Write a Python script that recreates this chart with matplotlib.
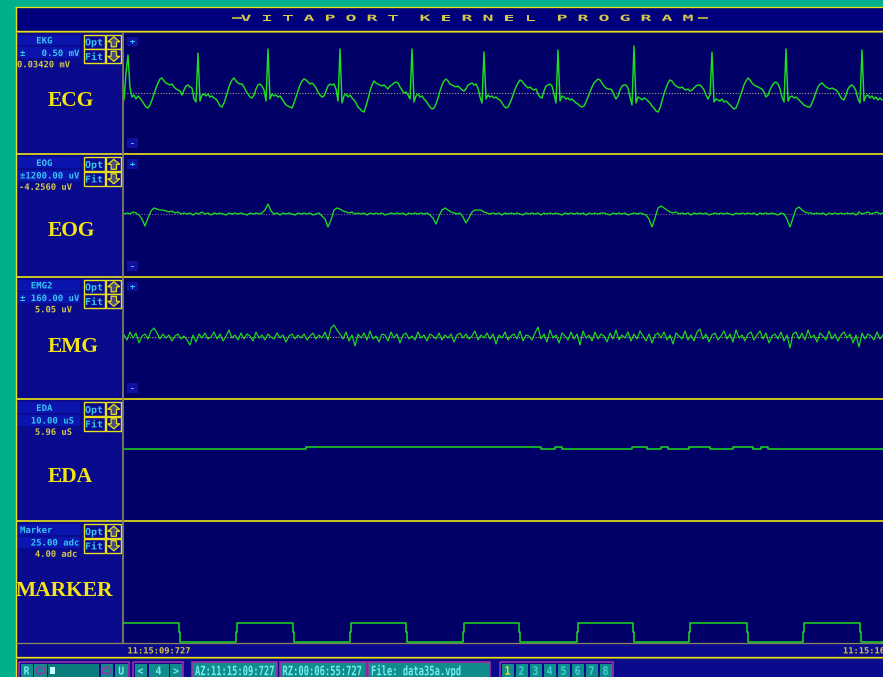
import numpy as np
import matplotlib
matplotlib.use("Agg")
import matplotlib.pyplot as plt
from matplotlib.patches import Rectangle, PathPatch, Polygon
from matplotlib.textpath import TextPath
from matplotlib.font_manager import FontProperties
from matplotlib.transforms import Affine2D

# ------------------------------------------------------------------ data
# ECG samples (screen units above baseline), one sample every 2 time steps,
# written beat by beat
ecg = [
    -7, 20, 38, 5, -4, -2, -6, -3, -5, -8, -11, -14, -15, -12, -7, -1, 5, 10, 14, 15,
    12, 10, 9, 8, 9, 6, 4, 3, 2, -2, 3, 7, 8, 6, 5, -6, -9,
    40, -8, -2, -1, -3, -1, -4, -3, -5, -6, -9, -13, -14, -10, -4, 3, 9, 13, 15, 12,
    10, 9, 9, 6, 2, -1, -4, -5, -2, 4, 8, 9, 7, 3, -8,
    44, -6, -1, -3, -2, -4, -3, -6, -9, -12, -13, -14, -15, -10, -4, 2, 8, 12, 14, 13,
    11, 9, 10, 8, 5, 1, -2, -4, -3, 2, 7, 9, 8, 9, 4, -8,
    44, -10, -3, -1, -4, -2, -5, -7, -10, -14, -16, -18, -19, -13, -6, 2, 8, 12, 10, 9,
    8, 7, 8, 6, 4, 7, 8, 10, 11, 10, 6, 3, 0, 1, -2, -6,
    44, -9, -3, -1, -4, -3, -6, -8, -11, -14, -16, -15, -11, -5, 2, 8, 12, 14, 12, 9,
    8, 7, 6, 7, 5, 3, 2, 4, 8, 9, 10, 8, 9, 5, -4, -10,
    41, -6, -2, -4, -3, -5, -4, -6, -7, -10, -13, -15, -14, -10, -5, 1, 6, 10, 13, 12,
    9, 7, 5, 6, 4, 3, 4, -1, -4, -5, 2, 7, 8, 9, 7, -1, -10,
    43, -8, -3, -4, -6, -5, -7, -6, -8, -10, -11, -13, -14, -13, -9, -4, 1, 6, 10, 12,
    14, 13, 10, 7, 5, 4, 4, 3, -2, -6, -3, 3, 7, 8, 8, 5, -4, -12,
    47, -10, -4, -5, -7, -5, -6, -8, -10, -13, -15, -18, -19, -15, -8, -1, 5, 10, 13, 12,
    9, 7, 6, 5, 6, 4, 3, 4, 2, 3, 5, 7, 8, 8, 6, 3, -2, -6, -2,
    41, -9, -6, -7, -8, -6, -9, -8, -10, -12, -14, -16, -15, -10, -4, 2, 8, 12, 15, 13,
    10, 8, 7, 6, 5, 4, 1, -4, -2, 3, 7, 10, 11, 9, 4, -4, -9,
    44, -8, -4, -3, -5, -4, -6, -8, -10, -12, -13, -14, -14, -10, -5, 1, 6, 9, 10, 8,
    6, 5, 4, 5, 4, 3, 1, -3, -6, -7, -2, 4, 7, 8, 6, 2, -6, -10,
    43, -8, -3, -2, -5, -3, -6, -4, -7, -5, -7,
]

# EOG samples (screen units), one sample every 3 time steps
eog = [
    0, 1, 0, 2, 1, -1, -5, -12, -4, 3,
    6, 5, 4, 4, 3, 2, 3, 1, 2, 0,
    1, 0, 1, -1, 1, 0, 2, 0, 1, -1,
    1, 0, 1, 0, -1, 1, 0, 1, 0, 1,
    0, -1, 1, 0, 1, 0, 1, 4, 10, 3,
    0, 1, -1, 1, 0, 1, 0, -1, 1, 0,
    1, 0, 1, -1, 0, 1, -2, -5, -13, -6,
    4, 6, 5, 3, 2, 1, 2, 0, 1, 0,
    1, -1, 1, 0, 1, 0, 1, -1, 0, 1,
    0, 1, 0, 1, -1, 1, 0, 1, 0, 1,
    0, 1, -1, -4, -10, -2, 4, 6, 4, 2,
    1, 0, 1, -3, -9, -4, 2, 4, 4, 4,
    2, 1, 0, 1, 0, 1, -1, 1, 0, 1,
    0, 1, 0, -1, 1, 0, 1, 0, 1, -1,
    1, 0, 1, 0, 1, 0, -1, 1, 0, 1,
    0, 1, 0, 1, -1, 1, 0, 1, 0, 1,
    1, 0, -1, 1, 0, 1, 0, 1, -1, 0,
    1, 0, 1, 0, -1, -5, -13, -4, 6, 8,
    6, 4, 2, 1, 2, 0, 1, 0, 1, -1,
    1, 0, 1, 0, 1, -1, 0, 1, 0, 1,
    0, 1, 0, -1, 1, 0, 1, 0, 1, 0,
    1, -1, 1, 0, 1, 0, 1, 0, -1, 1,
    0, -5, -13, -4, 5, 7, 4, 2, 1, 1,
    0, 1, 0, 1, -1, 1, 0, 1, 0, 1,
    0, 1, 0, 1, -1, 2, 0, 1, 2, 0,
    1, 2, 0, 1,
]

# EMG samples (screen units), one sample every 3 time steps
emg = [
    2, -3, 5, -1, 4, -6, 1, 3, -2, 6,
    9, 4, -2, 3, -1, 2, -4, 1, 3, -2,
    1, -3, -8, 2, -5, 3, -1, 4, -2, 0,
    5, -2, 3, -4, 1, 7, -1, 2, -3, 4,
    -2, 3, 1, -4, 5, -1, 2, -3, 3, 0,
    -2, 4, -1, 2, -5, 1, 3, -2, 2, -1,
    3, -3, 1, 4, -2, 2, -1, 5, -3, 9,
    12, 7, 3, -2, 5, -4, 2, -9, 3, -1,
    4, -3, 6, -2, 1, -5, 3, 2, -4, 5,
    -1, 3, -6, 2, 4, -2, 1, -3, 5, -1,
    2, -4, 3, 1, -2, 4, -3, 2, -1, 3,
    -5, 2, 4, -1, 3, -2, 1, 6, -3, 2,
    -1, 4, -2, 3, -7, 2, -1, 5, -3, 1,
    3, -2, 6, -4, 2, 1, -3, 4, 10, -2,
    3, -5, 7, -1, 2, -6, 4, 1, -3, 5,
    -2, 3, -8, 6, -1, 2, -4, 5, -2, 3,
    1, -5, 4, -2, 7, -3, 2, -1, 5, -4,
    3, -2, 6, 1, -4, 3, -6, 2, 4, -1,
    5, -3, 2, -7, 4, 1, -2, 6, -3, 2,
    -4, 5, 8, -2, 3, -5, 2, 4, -3, 1,
    6, -2, 3, -5, 7, -1, 2, -4, 3, 5,
    -3, 2, 6, -2, 4, -6, 1, 3, -2, 5,
    -4, 2, -11, 3, 5, -2, 4, -3, 7, -1,
    2, -5, 4, 1, -3, 6, -2, 3, -4, 2,
    5, -1, 3, -6, 2, -10, 4, -2, 3, 1,
    -3, 5, -2, 2,
]

# EDA level changes (time step, uS)
eda_t = [0, 182, 417, 431, 438, 508, 523, 537, 544, 565, 586, 609, 629, 637, 644]
eda_v = [5.98, 6.08, 5.98, 6.08, 5.98, 6.08, 5.98, 6.08, 5.98, 6.08, 5.98, 6.08,
         5.98, 6.08, 5.98]

# Marker channel (adc): edges in time steps, levels
mk_fall = [55, 169, 282, 395, 509, 623, 736]
mk_rise = [112, 226, 339, 453, 565, 679]
mk_high, mk_mid, mk_low = 4.0, 2.0, 0.0

# Channel texts
ch_names = ["   EKG", "   EOG", "  EMG2", "   EDA", "Marker"]
ch_ranges = ["\u00b1   0.50 mV", "\u00b11200.00 uV", "\u00b1 160.00 uV", "  10.00 uS", "  25.00 adc"]
ch_values = ["0.03420 mV", "-4.2560 uV", "   5.05 uV", "   5.96 uS", "   4.00 adc"]
ch_titles = ["ECG", "EOG", "EMG", "EDA", "MARKER"]

title_words = ["VITAPORT", "KERNEL", "PROGRAM"]
time_start = "11:15:09:727"
time_end = "11:15:16:455"
az_text = "AZ:11:15:09:727"
rz_text = "RZ:00:06:55:727"
file_text = "File: data35a.vpd"
page_buttons = ["1", "2", "3", "4", "5", "6", "7", "8"]

# ------------------------------------------------------------------ colours
TEAL = '#00B08A'
NAVY_PLOT = '#000066'
NAVY_COL = '#0A0A8C'
NAVY_TITLE = '#00007C'
BOX_BLUE = '#0C14AE'
YELLOW = '#E8E018'
OLIVE = '#8A8636'
GRAYDIV = '#8A8460'
CYAN = '#36C6F4'
VALUE_YEL = '#D2C84E'
LABEL_YEL = '#F4E414'
GREEN = '#1EDC1E'
TB_TEAL = '#108C8C'
TB_FRAME = '#A42CA8'
TB_TEXT = '#74EEEE'

W, H = 883, 677
fig = plt.figure(figsize=(W / 100, H / 100), dpi=100)
fig.patch.set_facecolor(TEAL)

base = fig.add_axes([0, 0, 1, 1], zorder=0)
base.set_xlim(0, W)
base.set_ylim(H, 0)
base.set_axis_off()

MONO = FontProperties(family='DejaVu Sans Mono', weight='bold')


def rect(x0, y0, x1, y1, fc, ec='none', lw=0.0, z=1):
    base.add_patch(Rectangle((x0, y0), x1 - x0, y1 - y0, facecolor=fc,
                             edgecolor=ec, linewidth=lw, zorder=z))


def hline(y, x0, x1, color, px):
    base.plot([x0, x1], [y, y], color=color, lw=px * 0.72, solid_capstyle='butt', zorder=3)


def vline(x, y0, y1, color, px):
    base.plot([x, x], [y0, y1], color=color, lw=px * 0.72, solid_capstyle='butt', zorder=3)


def ptext(x, y, s, cap, pitch, color, ha='left', z=5):
    """Monospaced screen text with given cap height and character pitch (pixels)."""
    tp = TextPath((0, 0), s, size=1, prop=MONO)
    sx = pitch / 0.602
    sy = cap / 0.729
    width = len(s) * pitch
    if ha == 'center':
        x -= width / 2
    elif ha == 'right':
        x -= width
    tr = Affine2D().scale(sx, -sy).translate(x, y + cap / 2) + base.transData
    base.add_patch(PathPatch(tp, facecolor=color, edgecolor='none', transform=tr, zorder=z))


def arrow_v(x0, y0, x1, y1, up, ec, fc):
    cx = (x0 + x1) / 2
    w = x1 - x0
    h = y1 - y0
    if up:
        tip, neck, bot = y0 + 1.5, y0 + h * 0.5, y1 - 1.5
    else:
        tip, neck, bot = y1 - 1.5, y0 + h * 0.5, y0 + 1.5
    pts = [(cx, tip), (x1 - 1.5, neck), (cx + w * 0.18, neck), (cx + w * 0.18, bot),
           (cx - w * 0.18, bot), (cx - w * 0.18, neck), (x0 + 1.5, neck)]
    base.add_patch(Polygon(pts, closed=True, facecolor=fc, edgecolor=ec, linewidth=0.9, zorder=4))


def arrow_h(x0, y0, x1, y1, left, ec, fc):
    cy = (y0 + y1) / 2
    w = x1 - x0
    h = y1 - y0
    if left:
        tip, neck, end = x0 + 1.5, x0 + w * 0.45, x1 - 1.5
    else:
        tip, neck, end = x1 - 1.5, x0 + w * 0.55, x0 + 1.5
    pts = [(tip, cy), (neck, y0 + 1.5), (neck, cy - h * 0.18), (end, cy - h * 0.18),
           (end, cy + h * 0.18), (neck, cy + h * 0.18), (neck, y1 - 1.5)]
    base.add_patch(Polygon(pts, closed=True, facecolor=fc, edgecolor=ec, linewidth=0.9, zorder=4))


# ------------------------------------------------------------------ window frame
rect(16, 7, W, 32, NAVY_TITLE)
seps = [31.5, 154, 276.5, 399, 521]
bottoms = [154, 276.5, 399, 521, 643]
for top, bot in zip(seps, bottoms):
    rect(16, top, 123, bot, NAVY_COL)
    rect(123, top, W, bot, NAVY_PLOT)
rect(16, 643, W, 657, NAVY_COL)
rect(16, 657, W, H, NAVY_COL)

hline(7.2, 15, W, YELLOW, 1.3)
vline(15.5, 7, H, YELLOW, 1.4)
hline(31.0, 16, W, YELLOW, 1.4)
hline(32.3, 16, W, OLIVE, 1.0)
for y in seps[1:]:
    hline(y, 16, W, YELLOW, 1.7)
vline(123.2, 32, 643, GRAYDIV, 1.7)
hline(642.9, 16, W, GRAYDIV, 1.3)
hline(656.6, 16, W, YELLOW, 1.3)
hline(658.0, 16, W, OLIVE, 1.0)

# title with letter spacing
tx = 246
title_y = 17.8
title_dashes = [(231.5, 241.5), (697.5, 707.5)]
for word in title_words:
    for ch in word:
        ptext(tx, title_y, ch, 6.2, 11.0, VALUE_YEL, ha='center')
        tx += 21
    tx += 11
for xa, xb in title_dashes:
    hline(title_y, xa, xb, '#A8A048', 2.0)

# ------------------------------------------------------------------ channel headers
title_pos = [(48, 101.5), (48, 231), (48, 347), (48, 477), (16, 591)]
value_x = [17, 19, 19, 19, 19]
for i, top in enumerate(seps):
    # name and range boxes
    rect(17, top + 3.3, 79.5, top + 14, BOX_BLUE, z=2)
    rect(17, top + 15.8, 79.5, top + 26.6, BOX_BLUE, z=2)
    ptext(20, top + 8.7, ch_names[i], 6.4, 5.4, CYAN)
    ptext(20, top + 21.3, ch_ranges[i], 6.4, 5.4, CYAN)
    ptext(value_x[i], top + 32.6, ch_values[i], 6.4, 5.3, VALUE_YEL)

    # Opt / Fit buttons
    for j, lab in enumerate(["Opt", "Fit"]):
        y0 = top + 3.3 + j * 14.5
        rect(83.5, y0, 104.5, y0 + 14, NAVY_COL, ec=YELLOW, lw=1.0, z=2)
        ptext(94.0, y0 + 7.2, lab, 6.8, 6.0, CYAN, ha='center')
        rect(106.3, y0, 121.3, y0 + 14, NAVY_COL, ec=YELLOW, lw=1.0, z=2)
        arrow_v(106.3, y0 + 0.5, 121.3, y0 + 13.5, j == 0, YELLOW, '#4C4C7C')

    # + / - scale buttons
    if i < 3:
        rect(127, top + 5.2, 137.5, top + 14.5, '#1010A0', z=2)
        ptext(132.3, top + 9.9, "+", 5.5, 6.0, CYAN, ha='center')
        rect(127, top + 106.5, 137.5, top + 116.5, '#1010A0', z=2)
        ptext(132.3, top + 111.6, "-", 5.5, 6.0, CYAN, ha='center')

    tx0, ty0 = title_pos[i]
    base.text(tx0, ty0, ch_titles[i], color=LABEL_YEL, fontsize=15.5, fontweight='bold',
              family='Liberation Serif', ha='left', va='center', zorder=5)

# time band labels
ptext(127.5, 650.3, time_start, 6.2, 5.25, '#D8C840')
ptext(843, 650.3, time_end, 6.2, 5.25, '#D8C840')

# ------------------------------------------------------------------ toolbar
ty = 670.5
rect(19, 661.5, 128.5, H + 3, 'none', ec=TB_FRAME, lw=1.2, z=2)
rect(20.5, 664, 32.5, H + 3, TB_TEAL, z=2)
ptext(26.5, ty, "R", 8.0, 6.0, TB_TEXT, ha='center')
rect(34, 664, 46.5, H + 3, TB_TEAL, z=2)
arrow_h(34, 664, 46.5, 677, True, TB_FRAME, TB_TEAL)
rect(48, 664, 99, H + 3, '#0A7C7C', z=2)
rect(49.5, 666.5, 55, 674, '#C8FFFF', z=3)
rect(100.5, 664, 113, H + 3, TB_TEAL, z=2)
arrow_h(100.5, 664, 113, 677, False, TB_FRAME, TB_TEAL)
rect(115, 664, 127.5, H + 3, TB_TEAL, z=2)
ptext(121.2, ty, "U", 8.0, 6.0, TB_TEXT, ha='center')

rect(133, 661.5, 183, H + 3, 'none', ec=TB_FRAME, lw=1.2, z=2)
for (xa, xb, lab) in [(134.5, 146.5, "<"), (148.5, 168.5, "4"), (170, 182, ">")]:
    rect(xa, 664, xb, H + 3, TB_TEAL, z=2)
    ptext((xa + xb) / 2, ty, lab, 8.0, 6.0, TB_TEXT, ha='center')

for (xa, xb, lab) in [(192, 277, az_text), (279.5, 365.5, rz_text), (368, 490, file_text)]:
    rect(xa, 661.5, xb, H + 3, TB_TEAL, ec=TB_FRAME, lw=1.2, z=2)
    ptext(xa + 3, ty, lab, 9.5, 5.3, TB_TEXT)

rect(500, 661.5, 613, H + 3, 'none', ec=TB_FRAME, lw=1.2, z=2)
for k, lab in enumerate(page_buttons):
    xa = 501.5 + 14 * k
    rect(xa, 664, xa + 12, H + 3, TB_TEAL, z=2)
    ptext(xa + 6, ty, lab, 8.5, 6.0, YELLOW if k == 0 else '#40D0D0', ha='center')


# ------------------------------------------------------------------ traces
def px_axes(x, y, w, h):
    ax = fig.add_axes([x / W, 1 - (y + h) / H, w / W, h / H], zorder=1)
    ax.set_axis_off()
    ax.set_xlim(0, 759)
    return ax


# ECG
ax = px_axes(124, 32, 759, 122)
ax.set_ylim(-61, 61)
ax.axhline(0, color='#A8A48C', lw=0.8, ls=(0, (1, 1.5)))
ax.plot(np.arange(len(ecg)) * 2, ecg, color=GREEN, lw=1.05)

# EOG
ax = px_axes(124, 155, 759, 121)
ax.set_ylim(-62, 59)
ax.axhline(0, color='#7C6C84', lw=0.8, ls=(0, (1, 1.5)))
ax.plot(np.arange(len(eog)) * 3, eog, color=GREEN, lw=0.95)

# EMG
ax = px_axes(124, 277, 759, 121)
ax.set_ylim(-61, 60)
ax.axhline(0, color='#C8B448', lw=0.8, ls=(0, (1, 1.5)))
ax.plot(np.arange(len(emg)) * 3, emg, color=GREEN, lw=0.85)

# EDA
ax = px_axes(124, 400, 759, 121)
ax.set_ylim(0, 10)
ax.step(eda_t + [759], eda_v + [eda_v[-1]], where='post', color=GREEN, lw=1.1)

# Marker square wave with one intermediate sample on each edge
ax = px_axes(124, 521, 759, 121)
ax.set_ylim(0, 25)
events = sorted([(t, 'f') for t in mk_fall] + [(t, 'r') for t in mk_rise])
mx, my = [0], [mk_high]
for t, kind in events:
    if kind == 'f':
        mx += [t, t, t + 1, t + 1]
        my += [mk_high, mk_mid, mk_mid, mk_low]
    else:
        mx += [t, t, t + 1, t + 1]
        my += [mk_low, mk_mid, mk_mid, mk_high]
mx.append(759)
my.append(my[-1])
ax.plot(mx, my, color=GREEN, lw=1.1, clip_on=False)

fig.savefig("out.png", dpi=100, facecolor=fig.get_facecolor())
